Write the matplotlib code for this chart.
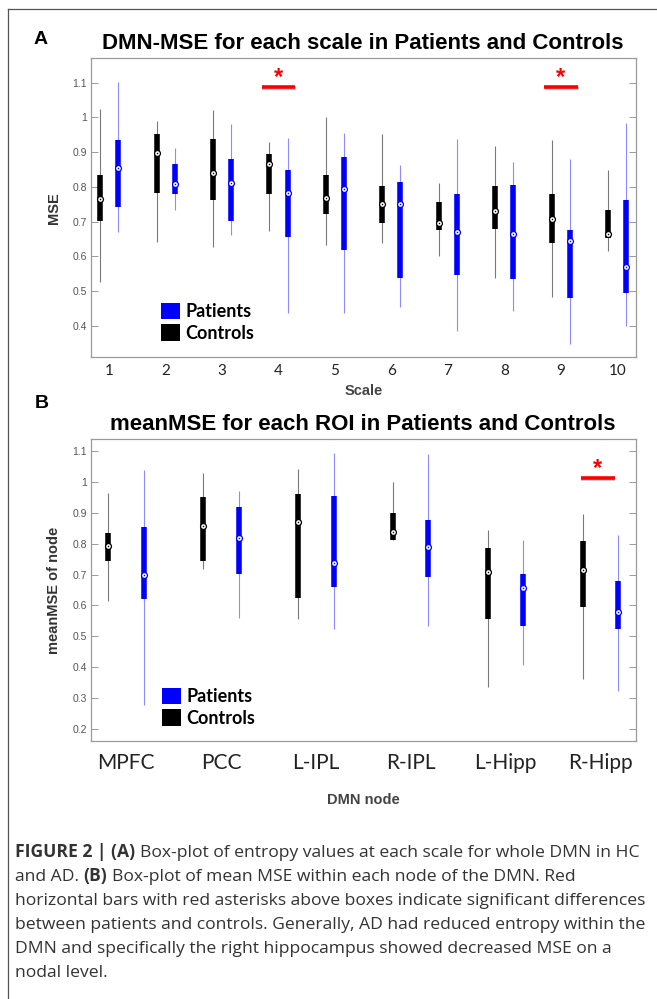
import numpy as np
import matplotlib
matplotlib.use("Agg")
import matplotlib.pyplot as plt
from matplotlib.lines import Line2D
from matplotlib.patches import Patch
import matplotlib.patheffects as pe

# ---------------------------------------------------------------- data (panel A)
scales = [1, 2, 3, 4, 5, 6, 7, 8, 9, 10]
a_ctrl_hi = [1.023, 0.991, 1.021, 0.928, 1.002, 0.951, 0.812, 0.918, 0.935, 0.849]
a_ctrl_q3 = [0.834, 0.952, 0.937, 0.896, 0.834, 0.803, 0.758, 0.803, 0.781, 0.735]
a_ctrl_med = [0.764, 0.897, 0.839, 0.865, 0.767, 0.750, 0.697, 0.731, 0.707, 0.666]
a_ctrl_q1 = [0.702, 0.783, 0.763, 0.779, 0.722, 0.697, 0.676, 0.679, 0.638, 0.652]
a_ctrl_lo = [0.528, 0.643, 0.628, 0.674, 0.633, 0.638, 0.600, 0.539, 0.483, 0.617]
a_pat_hi = [1.103, 0.913, 0.981, 0.941, 0.956, 0.862, 0.938, 0.871, 0.879, 0.983]
a_pat_q3 = [0.935, 0.866, 0.879, 0.848, 0.885, 0.813, 0.779, 0.805, 0.677, 0.763]
a_pat_med = [0.854, 0.808, 0.812, 0.784, 0.793, 0.752, 0.670, 0.666, 0.644, 0.569]
a_pat_q1 = [0.741, 0.781, 0.703, 0.657, 0.619, 0.537, 0.546, 0.536, 0.481, 0.494]
a_pat_lo = [0.670, 0.734, 0.662, 0.437, 0.437, 0.456, 0.387, 0.444, 0.348, 0.400]
a_sig = [4, 9]
a_sig_y = 1.088

# ---------------------------------------------------------------- data (panel B)
nodes = ["MPFC", "PCC", "L-IPL", "R-IPL", "L-Hipp", "R-Hipp"]
b_ctrl_hi = [0.962, 1.027, 1.042, 0.998, 0.844, 0.894]
b_ctrl_q3 = [0.835, 0.949, 0.961, 0.898, 0.787, 0.807]
b_ctrl_med = [0.792, 0.858, 0.871, 0.836, 0.708, 0.714]
b_ctrl_q1 = [0.745, 0.745, 0.625, 0.810, 0.556, 0.596]
b_ctrl_lo = [0.616, 0.717, 0.555, 0.810, 0.335, 0.364]
b_pat_hi = [1.038, 0.971, 1.094, 1.088, 0.812, 0.827]
b_pat_q3 = [0.852, 0.919, 0.954, 0.876, 0.702, 0.680]
b_pat_med = [0.697, 0.817, 0.737, 0.790, 0.657, 0.580]
b_pat_q1 = [0.620, 0.702, 0.659, 0.693, 0.534, 0.524]
b_pat_lo = [0.279, 0.561, 0.523, 0.535, 0.407, 0.325]
b_sig = [6]
b_sig_y = 1.011

BLUE = "#0000ff"
HELV = ["Liberation Sans", "DejaVu Sans"]
CALI = ["Lato", "DejaVu Sans"]
CAPF = ["Open Sans", "DejaVu Sans"]

fig = plt.figure(figsize=(6.57, 9.99), dpi=100)
W, H = 657.0, 999.0


def px_axes(l, t, r, b):
    return fig.add_axes([l / W, 1 - b / H, (r - l) / W, (b - t) / H])


def compact_box(ax, x, lo, q1, med, q3, hi, col, wcol):
    ax.vlines(x, lo, hi, color=wcol, lw=0.8, zorder=2)
    ax.vlines(x, q1, q3, color=col, lw=4.0, zorder=3)
    ax.scatter(x, med, s=18, marker="o", facecolor="white", edgecolor=col, lw=0.9, zorder=4)
    ax.scatter(x, med, s=1.2, marker="o", color=col, lw=0, zorder=5)


def style_axes(ax, yt, ylim, xlim):
    ax.set_ylim(*ylim)
    ax.set_xlim(*xlim)
    ax.set_yticks(yt)
    ax.set_yticklabels(["%g" % v for v in yt], fontsize=7.5, color="#555555", family=HELV)
    ax.tick_params(axis="y", direction="in", length=5, width=0.7, color="#999999",
                   left=True, right=True, pad=3)
    for s in ax.spines.values():
        s.set_color("#9a9a9a")
        s.set_linewidth(0.9)


def sig_mark(ax, x, y, hw, dy):
    ax.plot([x - hw, x + hw], [y, y], color="red", lw=2.6, solid_capstyle="butt",
            path_effects=[pe.SimpleLineShadow(offset=(0.6, -0.8), alpha=0.25), pe.Normal()])
    ax.text(x, y + dy, "*", color="red", ha="center", va="center", fontsize=17,
            fontweight="bold", family=HELV)


def legend(ax, anchor):
    h = [Patch(facecolor=BLUE, edgecolor="none"), Patch(facecolor="black", edgecolor="none")]
    leg = ax.legend(h, ["Patients", "Controls"], loc="upper left", bbox_to_anchor=anchor,
                    frameon=False, borderpad=0, borderaxespad=0, handlelength=1.05,
                    handleheight=1.05, handletextpad=0.3, labelspacing=0.22,
                    prop={"family": CALI, "weight": "bold", "size": 13})
    return leg


# ---------------------------------------------------------------- panel A
axA = px_axes(91, 58.3, 636, 357.3)
off = 0.16
for i, s in enumerate(scales):
    compact_box(axA, s - off, a_ctrl_lo[i], a_ctrl_q1[i], a_ctrl_med[i], a_ctrl_q3[i],
                a_ctrl_hi[i], "black", "#7a7a7a")
    compact_box(axA, s + off, a_pat_lo[i], a_pat_q1[i], a_pat_med[i], a_pat_q3[i],
                a_pat_hi[i], BLUE, "#8c8cff")
style_axes(axA, np.round(np.arange(0.4, 1.11, 0.1), 1), (0.31, 1.17), (0.68, 10.33))
axA.set_xticks(scales)
axA.set_xticklabels([str(s) for s in scales], fontsize=11, family=CALI, color="#222222")
axA.tick_params(axis="x", length=0, pad=5)
for s in a_sig:
    sig_mark(axA, s, a_sig_y, 0.3, 0.028)
axA.set_ylabel("MSE", fontsize=10.5, fontweight="bold", family=HELV, color="#333333", labelpad=8)
axA.set_xlabel("Scale", fontsize=10.5, fontweight="bold", family=HELV, color="#444444", labelpad=4)
legend(axA, (0.128, 0.183))

# ---------------------------------------------------------------- panel B
axB = px_axes(91, 439.3, 636, 740.7)
off = 0.187
for i in range(len(nodes)):
    x = i + 1
    compact_box(axB, x - off, b_ctrl_lo[i], b_ctrl_q1[i], b_ctrl_med[i], b_ctrl_q3[i],
                b_ctrl_hi[i], "black", "#7a7a7a")
    compact_box(axB, x + off, b_pat_lo[i], b_pat_q1[i], b_pat_med[i], b_pat_q3[i],
                b_pat_hi[i], BLUE, "#8c8cff")
style_axes(axB, np.round(np.arange(0.2, 1.11, 0.1), 1), (0.163, 1.137), (0.629, 6.375))
axB.set_xticks(range(1, len(nodes) + 1))
axB.set_xticklabels(nodes, fontsize=15, family=CALI, color="#222222")
axB.tick_params(axis="x", length=0, pad=9)
for s in b_sig:
    sig_mark(axB, s - 0.03, b_sig_y, 0.18, 0.031)
axB.set_ylabel("meanMSE of node", fontsize=10.5, fontweight="bold", family=HELV,
               color="#333333", labelpad=8)
axB.set_xlabel("DMN node", fontsize=10.5, fontweight="bold", family=HELV, color="#444444",
               labelpad=14)
legend(axB, (0.130, 0.176))

# ---------------------------------------------------------------- titles and panel letters
fig.text(362.5 / W, 1 - 43.3 / H, "DMN-MSE for each scale in Patients and Controls",
         ha="center", va="center", fontsize=16, fontweight="bold", family=HELV)
fig.text(362.5 / W, 1 - 424.7 / H, "meanMSE for each ROI in Patients and Controls",
         ha="center", va="center", fontsize=16, fontweight="bold", family=HELV)
fig.text(40.5 / W, 1 - 39.5 / H, "A", ha="center", va="center", fontsize=14,
         fontweight="bold", family=HELV)
fig.text(41.5 / W, 1 - 403.3 / H, "B", ha="center", va="center", fontsize=14,
         fontweight="bold", family=HELV)

# ---------------------------------------------------------------- frame lines
fig.add_artist(Line2D([8 / W, 1], [1 - 8.5 / H, 1 - 8.5 / H], transform=fig.transFigure,
                      color="#555555", lw=0.9))
fig.add_artist(Line2D([8 / W, 8 / W], [0, 1 - 8.5 / H], transform=fig.transFigure,
                      color="#555555", lw=0.9))

# ---------------------------------------------------------------- caption
cap = fig.add_axes([0, 0, 1, 1])
cap.axis("off")
cap.set_xlim(0, W)
cap.set_ylim(H, 0)
CFS = 12.6
CCOL = "#333333"
space = 3.4
lines = [
    [("FIGURE 2 | (A)", "bold"), ("Box-plot of entropy values at each scale for whole DMN in HC", "normal")],
    [("and AD.", "normal"), ("(B)", "bold"), ("Box-plot of mean MSE within each node of the DMN. Red", "normal")],
    [("horizontal bars with red asterisks above boxes indicate significant differences", "normal")],
    [("between patients and controls. Generally, AD had reduced entropy within the", "normal")],
    [("DMN and specifically the right hippocampus showed decreased MSE on a", "normal")],
    [("nodal level.", "normal")],
]
base_y = 857.0
for k, segs in enumerate(lines):
    y = base_y + 24.0 * k
    prev = None
    for txt, wt in segs:
        if prev is None:
            prev = cap.text(15, y, txt, fontsize=CFS, fontweight=wt, family=CAPF,
                            color=CCOL, ha="left", va="baseline")
        else:
            prev = cap.annotate(txt, xy=(1, 0), xycoords=prev, xytext=(space, 0),
                                textcoords="offset points", fontsize=CFS, fontweight=wt,
                                family=CAPF, color=CCOL, ha="left", va="bottom")

fig.savefig("out.png", dpi=100)
